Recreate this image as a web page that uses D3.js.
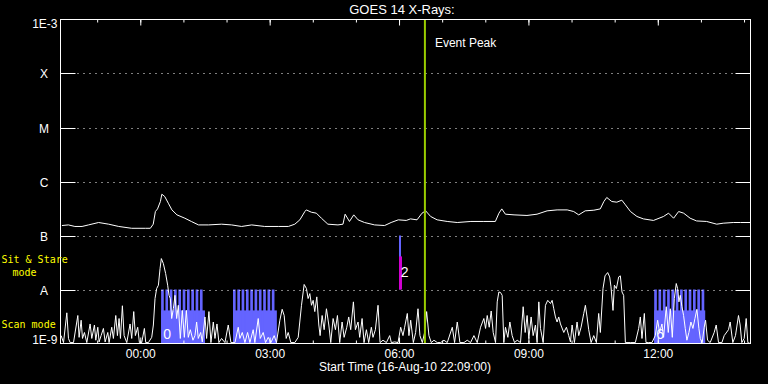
<!DOCTYPE html>
<html><head><meta charset="utf-8">
<script src="https://cdn.jsdelivr.net/npm/d3@7"></script>
<style>
html,body{margin:0;padding:0;background:#000;overflow:hidden}
svg{display:block}
text{font-family:"Liberation Sans",Arial,sans-serif;}
text.mode{font-family:"DejaVu Sans Mono",monospace;}
</style>
</head><body>
<svg id="chart" width="768" height="384"></svg>
<script>
// ---------------- DATA ----------------
const titleText = "GOES 14 X-Rays:";
const xAxisTitle = "Start Time (16-Aug-10 22:09:00)";
const startTime = Date.UTC(2010, 7, 16, 22, 9, 0);
const spanMinutes = 960;

const levelValues = [1e-3, 1e-4, 1e-5, 1e-6, 1e-7, 1e-8, 1e-9];
const levelLabels = ["1E-3", "X", "M", "C", "B", "A", "1E-9"];

// 1-8 A channel: [minutes after start, flux in 1e-7 W/m^2]
const longSeries = [
 [2,1.53],[11,1.57],[20,1.47],[30,1.47],[39,1.57],[53,1.74],[67,1.62],[81,1.47],[99,1.36],[118,1.36],
 [125,1.36],[129,1.62],[132,2.78],[135,3.11],[139,4.26],[141,5.82],[145,5.27],[150,3.96],[155,2.98],[162,2.41],
 [173,2.09],[182,1.82],[192,1.57],[206,1.57],[224,1.62],[238,1.57],[252,1.47],[266,1.57],[284,1.47],[303,1.47],
 [317,1.47],[326,1.62],[333,1.95],[340,2.78],[342,2.98],[349,2.70],[356,2.59],[363,2.09],[372,1.62],[386,1.57],
 [393,1.62],[396,2.48],[402,1.82],[408,2.41],[414,1.95],[423,1.74],[437,1.57],[451,1.53],[460,1.74],[470,1.95],
 [481,1.90],[487,2.03],[496,1.95],[503,2.59],[508,2.86],[515,2.25],[524,1.95],[538,1.82],[552,1.74],[571,1.82],
 [589,1.82],[605,1.82],[610,2.59],[614,3.11],[619,2.48],[631,2.41],[649,2.35],[663,2.48],[677,2.86],[691,2.98],
 [705,2.98],[714,2.78],[721,2.41],[730,2.86],[742,2.94],[751,3.11],[756,4.26],[760,5.06],[767,4.26],[774,4.14],
 [781,4.51],[786,3.69],[793,2.78],[802,2.25],[811,2.03],[825,1.90],[839,2.25],[846,2.59],[853,2.09],[860,2.78],
 [867,2.59],[876,2.09],[885,1.86],[899,1.82],[913,1.62],[922,1.69],[936,1.74],[946,1.74],[960,1.74]
];

// 0.5-4 A channel: [minutes after start, flux in 1e-9 W/m^2]
const shortSeries = [
 [0.9,1.4],[4.2,1.04],[8.8,3.7],[11.1,1.24],[13.4,1.04],[18.1,1.04],[24.1,3.3],[25.9,1.3],[28.7,2.7],[30.6,1.24],
 [33.3,1.6],[36.6,1.04],[41.2,2.3],[43.5,1.24],[47.2,2.2],[49.1,1.15],[51.9,2.0],[53.7,1.07],[56.5,1.4],[59.7,1.9],
 [62.1,1.07],[65.8,1.6],[67.6,1.04],[71.3,2.0],[73.6,1.24],[76.9,3.3],[79.2,1.4],[81.5,2.9],[83.4,1.24],[86.1,5.0],
 [88.5,1.4],[92.2,1.04],[96.8,2.3],[99.1,1.24],[101.9,3.9],[104.2,1.4],[107.4,2.0],[109.8,1.04],[113.0,1.04],[116.7,1.9],
 [118.6,1.04],[122.3,1.04],[126.9,1.3],[129.2,2.2],[131.5,6.8],[133.8,10.4],[136.2,12],[138.5,24.5],[140.3,37.4],[143.1,30.3],
 [146.3,19.7],[149.1,12],[151.0,7.8],[152.8,6.8],[154.7,2.9],[157.0,4.4],[159.3,7.8],[161.6,2.9],[163.9,5.1],[166.7,1.24],
 [169.5,4.1],[172.3,1.3],[175.1,4.1],[177.8,1.3],[180.6,1.8],[184.3,1.15],[187.1,1.4],[189.4,2.5],[191.7,1.24],[195.0,1.6],
 [197.3,1.07],[201.0,3.1],[203.3,1.24],[206.5,3.9],[209.3,1.04],[212.6,2.5],[214.9,1.24],[217.7,2.3],[220.4,1.04],[224.1,1.24],
 [228.8,1.04],[233.4,2.2],[237.1,1.04],[242.7,1.04],[247.3,2.0],[249.6,1.24],[252.9,1.6],[256.6,1.04],[260.3,1.6],[263.5,1.04],
 [268.1,1.8],[270.4,1.04],[275.1,2.9],[277.9,1.24],[282.0,1.6],[285.3,1.04],[289.0,1.3],[292.7,1.04],[297.3,1.4],[300.5,1.04],
 [305.2,2.7],[308.4,4.3],[311.2,3.3],[314.0,1.24],[316.8,1.6],[320.5,1.04],[326.0,1.04],[330.7,1.3],[335.3,5.1],[339.0,12.4],
 [342.2,10.4],[344.5,6.8],[346.9,8.4],[349.2,5.1],[351.5,6.3],[353.8,3.9],[356.6,7.3],[359.4,2.2],[361.2,1.4],[364.0,3.3],
 [366.8,1.8],[370.0,4.4],[373.3,2.2],[376.0,1.04],[379.3,2.9],[382.5,1.8],[385.3,3.3],[388.5,1.04],[391.8,2.5],[394.6,1.3],
 [398.3,2.0],[401.0,3.1],[403.8,1.8],[407.5,5.9],[410.3,1.8],[414.0,2.5],[416.3,1.3],[419.6,2.9],[422.3,1.04],[425.6,1.8],
 [428.8,1.04],[432.5,2.0],[434.8,1.3],[438.1,1.8],[441.8,5.1],[444.6,1.04],[448.7,1.15],[453.4,1.04],[458.0,1.4],[460.3,1.04],
 [465.0,1.07],[469.6,1.04],[473.3,2.0],[476.5,1.4],[478.8,2.0],[482.5,3.6],[484.8,1.4],[487.2,2.7],[490.9,1.04],[494.1,1.6],
 [497.4,4.4],[500.1,1.4],[503.4,1.04],[506.6,1.6],[509.4,3.9],[512.6,1.4],[515.9,1.04],[519.6,1.15],[524.2,1.04],[528.8,1.04],
 [533.5,1.15],[538.1,1.04],[545.1,2.0],[548.3,1.04],[552.0,2.5],[555.7,1.04],[561.3,1.04],[565.9,1.15],[570.5,1.04],[575.2,1.4],
 [579.8,1.04],[584.4,2.0],[589.0,2.9],[591.4,1.9],[593.7,3.3],[596.5,2.0],[599.2,4.0],[602.0,1.6],[605.3,1.04],[607.6,5.9],
 [609.9,9.0],[612.2,8.8],[614.5,7.8],[616.8,1.04],[619.1,2.0],[622.4,1.3],[625.2,2.5],[628.4,1.4],[631.7,1.04],[635.4,1.15],
 [640.0,1.04],[643.7,4.8],[646.5,1.6],[649.2,3.3],[651.6,1.24],[654.8,3.1],[657.6,1.4],[660.8,2.2],[663.1,1.04],[665.5,5.9],
 [667.8,1.9],[671.5,1.04],[674.7,5.1],[677.9,6.3],[681.7,5.5],[684.0,6.3],[686.3,4.4],[688.6,3.1],[690.9,2.5],[693.2,3.1],
 [695.6,2.3],[700.2,1.6],[703.9,2.0],[707.1,1.4],[709.5,1.07],[711.8,2.2],[715.0,1.04],[718.7,2.5],[721.0,1.4],[724.3,2.0],
 [728.0,3.6],[730.3,5.1],[732.6,3.1],[734.9,1.8],[738.2,1.04],[741.9,1.4],[745.6,1.04],[748.8,3.6],[751.1,1.6],[754.8,10.4],
 [757.6,17.9],[761.3,20.6],[764.1,17.1],[765.9,11.2],[768.7,4.1],[770.6,12],[773.4,10.4],[776.6,17.1],[778.9,17.9],[781.2,9.0],
 [783.5,7.8],[785.9,1.04],[792.8,1.04],[799.8,1.04],[804.4,1.9],[806.7,3.1],[809.0,1.24],[812.3,3.6],[814.6,1.04],[818.3,1.04],
 [822.9,1.04],[827.5,1.4],[830.8,2.7],[833.6,1.6],[836.8,2.3],[839.1,1.3],[842.8,4.8],[845.6,1.6],[848.4,4.4],[851.2,1.3],
 [854.0,6.8],[856.7,12.9],[858.6,10.4],[860.4,5.9],[862.3,7.8],[864.6,4.8],[866.9,3.3],[869.2,1.9],[871.5,1.15],[874.3,1.6],
 [877.1,2.5],[879.9,1.9],[882.7,2.9],[885.4,4.3],[888.2,1.9],[890.1,1.24],[892.8,1.04],[895.6,2.0],[897.5,2.7],[900.2,1.15],
 [903.9,1.04],[909.5,1.6],[912.3,2.2],[915.5,1.04],[920.2,1.04],[923.4,1.4],[929.4,1.8],[931.7,2.5],[935.4,1.04],[939.1,1.4],
 [943.3,3.3],[945.6,2.2],[947.9,1.04],[951.2,1.24],[954.0,2.9],[956.3,1.04],[959.5,1.0]
];

// Scan-mode blocks: [start minute, end minute, label]
const scanBlocks = [[140, 201, "0"], [240, 301, ""], [826, 897, "6"]];
// Individual observation start minutes inside each block
const scanObsStarts = [
 [140, 146, 152, 158, 164, 170, 176, 182, 188, 194],
 [240, 246, 252, 258, 264, 270, 276, 282, 288, 294],
 [826, 832, 838, 844, 850, 856, 862, 868, 874, 880, 886, 892]
];
const obsDurationMin = 3.7;
// Sit & stare observations: [minute, label]
const sitStareObs = [[472, "2"]];
const eventPeakMinute = 507;
const eventLabel = "Event Peak";
const modeLabelLines = [["Sit & Stare", "mode"], ["Scan mode"]];

// ---------------- DRAWING ----------------
const svg = d3.select("#chart");
svg.append("rect").attr("width", 768).attr("height", 384).attr("fill", "#000");

const X0 = 60.5, X1 = 750.5, Y0 = 19.5, Y1 = 343.5;
const tm = m => new Date(startTime + m * 60000);
const x = d3.scaleUtc().domain([tm(0), tm(spanMinutes)]).range([X0, X1]);
const y = d3.scaleLog().domain([1e-9, 1e-3]).range([Y1, Y0]);

const BLUE = "#6464ff", MAGENTA = "#d200d2", GREEN = "#9acd00", YELLOW = "#ffff00";

svg.append("defs").append("clipPath").attr("id", "plotclip")
  .append("rect").attr("x", X0).attr("y", Y0).attr("width", X1 - X0).attr("height", Y1 - Y0);

const plot = svg.append("g").attr("clip-path", "url(#plotclip)");

// scan blocks
const SCAN_TOP = 4.1e-9, MODE_TOP = 1e-8;
scanBlocks.forEach((b, i) => {
  plot.append("rect")
    .attr("x", x(tm(b[0]))).attr("y", y(SCAN_TOP))
    .attr("width", x(tm(b[1])) - x(tm(b[0]))).attr("height", y(1e-9) - y(SCAN_TOP))
    .attr("fill", BLUE);
  plot.selectAll(null).data(scanObsStarts[i]).enter().append("rect")
    .attr("x", d => x(tm(d)))
    .attr("y", y(MODE_TOP))
    .attr("width", d => x(tm(d + obsDurationMin)) - x(tm(d)))
    .attr("height", y(1e-9) - y(MODE_TOP))
    .attr("fill", BLUE);
});

// sit & stare markers
sitStareObs.forEach(s => {
  const px = Math.round(x(tm(s[0]))) - 1;
  plot.append("rect").attr("x", px).attr("y", y(1e-7)).attr("width", 2)
    .attr("height", y(1e-8) - y(1e-7)).attr("fill", BLUE);
  plot.append("rect").attr("x", px).attr("y", y(4.1e-8)).attr("width", 3)
    .attr("height", y(1e-8) - y(4.1e-8)).attr("fill", MAGENTA);
});

// level grid lines
levelValues.slice(1, -1).forEach(v => {
  const yy = Math.round(y(v)) + 0.5;
  svg.append("line").attr("x1", X0).attr("x2", X0 + 15).attr("y1", yy).attr("y2", yy)
    .attr("stroke", "#fff").attr("stroke-width", 1);
  svg.append("line").attr("x1", X1 - 15).attr("x2", X1).attr("y1", yy).attr("y2", yy)
    .attr("stroke", "#fff").attr("stroke-width", 1);
  svg.append("line").attr("x1", X0 + 17).attr("x2", X1 - 15).attr("y1", yy).attr("y2", yy)
    .attr("stroke", "#fff").attr("stroke-width", 1).attr("stroke-dasharray", "1 5");
});

// curves
const lineLong = d3.line().x(d => x(tm(d[0]))).y(d => y(d[1] * 1e-7));
const lineShort = d3.line().x(d => x(tm(d[0]))).y(d => y(Math.max(d[1] * 1e-9, 1e-9)));
plot.append("path").attr("d", lineShort(shortSeries)).attr("fill", "none")
  .attr("stroke", "#fff").attr("stroke-width", 1);
plot.append("path").attr("d", lineLong(longSeries)).attr("fill", "none")
  .attr("stroke", "#fff").attr("stroke-width", 1);

// labels on observations
scanBlocks.forEach(b => {
  if (!b[2]) return;
  svg.append("text").attr("x", x(tm(b[0])) + 6).attr("y", 338.5)
    .attr("text-anchor", "middle").attr("font-size", 14).attr("fill", "#fff").text(b[2]);
});
sitStareObs.forEach(s => {
  svg.append("text").attr("x", x(tm(s[0])) + 5).attr("y", 277)
    .attr("text-anchor", "middle").attr("font-size", 14).attr("fill", "#fff").text(s[1]);
});

// event peak
const ex = x(tm(eventPeakMinute));
svg.append("line").attr("x1", ex).attr("x2", ex).attr("y1", Y0).attr("y2", Y1)
  .attr("stroke", GREEN).attr("stroke-width", 2);
svg.append("text").attr("x", ex + 10).attr("y", 47).attr("font-size", 12)
  .attr("fill", "#fff").text(eventLabel);

// frame
svg.append("rect").attr("x", X0).attr("y", Y0).attr("width", X1 - X0).attr("height", Y1 - Y0)
  .attr("fill", "none").attr("stroke", "#fff").attr("stroke-width", 1);

// time axes
const fmt = d3.utcFormat("%H:%M");
function styleAxis(g) {
  g.select(".domain").remove();
  g.selectAll("line").attr("stroke", "#fff");
  g.selectAll("text").attr("fill", "#fff").attr("font-size", 12);
}
svg.append("g").attr("transform", `translate(0,${Y0})`)
  .call(d3.axisTop(x).ticks(d3.utcHour.every(1)).tickSize(-3).tickFormat("")).call(styleAxis);
svg.append("g").attr("transform", `translate(0,${Y0})`)
  .call(d3.axisTop(x).ticks(d3.utcHour.every(3)).tickSize(-6).tickFormat("")).call(styleAxis);
svg.append("g").attr("transform", `translate(0,${Y1})`)
  .call(d3.axisBottom(x).ticks(d3.utcHour.every(1)).tickSize(-3).tickFormat("")).call(styleAxis);
svg.append("g").attr("transform", `translate(0,${Y1})`)
  .call(d3.axisBottom(x).ticks(d3.utcHour.every(3)).tickSize(-6).tickPadding(6).tickFormat(fmt)).call(styleAxis);

// level labels
levelValues.forEach((v, i) => {
  const t = svg.append("text").attr("fill", "#fff").attr("font-size", 12).text(levelLabels[i]);
  if (i === 0) t.attr("x", 57.5).attr("y", 27.5).attr("text-anchor", "end");
  else if (i === levelValues.length - 1) t.attr("x", 57.5).attr("y", 343.5).attr("text-anchor", "end");
  else t.attr("x", 44).attr("y", Math.round(y(v)) + 4.5).attr("text-anchor", "middle");
});

// mode labels (yellow, left margin)
const modeText = (txt, tx, ty) => svg.append("text").attr("class", "mode")
  .attr("x", tx).attr("y", ty).attr("font-size", 10).attr("fill", YELLOW).text(txt);
modeText(modeLabelLines[0][0], 1.5, 263);
modeText(modeLabelLines[0][1], 12.5, 275.5);
modeText(modeLabelLines[1][0], 1.5, 328);

// titles
svg.append("text").attr("x", 402).attr("y", 14).attr("text-anchor", "middle")
  .attr("font-size", 13).attr("fill", "#fff").text(titleText);
svg.append("text").attr("x", 405).attr("y", 370.5).attr("text-anchor", "middle")
  .attr("font-size", 12).attr("fill", "#fff").text(xAxisTitle);
</script>
</body></html>
